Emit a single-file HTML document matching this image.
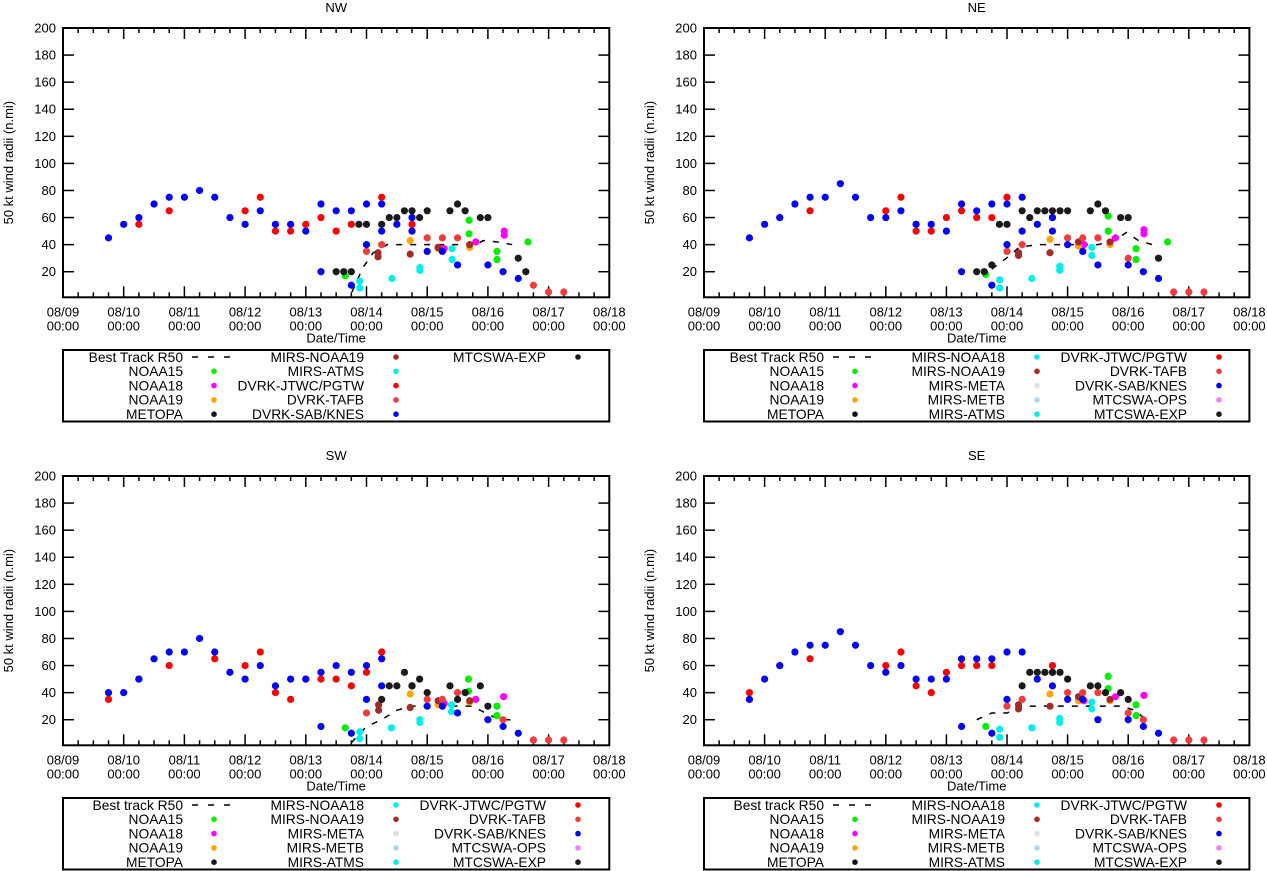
<!DOCTYPE html>
<html><head><meta charset="utf-8"><style>
html,body{margin:0;padding:0;background:#fff;}
svg{display:block;font-family:"Liberation Sans",sans-serif;}
</style></head><body>
<svg id="fig" width="1267" height="871" viewBox="0 0 1267 871" xmlns="http://www.w3.org/2000/svg"></svg>
<script>
// ---------- data: [day since 08/09 00:00, radius n.mi] ----------
const DAY_LABELS = ["08/09","08/10","08/11","08/12","08/13","08/14","08/15","08/16","08/17","08/18"];
const Y_TICKS = [20,40,60,80,100,120,140,160,180,200];

const NW_BEST = [[4.76,5],[4.94,23],[5.11,34],[5.34,40],[6.5,40],[6.82,40],[6.92,43],[7.15,42],[7.4,40]];
const NW_N15 = [[4.65,17],[6.69,58],[6.69,48],[7.15,35],[7.15,29],[7.66,42]];
const NW_N18 = [[6.28,37],[6.8,42],[7.27,50],[7.27,47]];
const NW_N19 = [[5.72,43],[6.18,37],[6.7,38]];
const NW_MN19 = [[5.19,34],[5.19,31],[5.72,33],[6.18,38],[6.7,40]];
const NW_ATMS = [[4.89,13],[4.89,8],[5.42,15],[5.88,23],[5.88,21],[6.41,37],[6.41,29]];
const NW_JTWC = [[1.25,55],[1.75,65],[3,65],[3.25,75],[3.5,50],[3.75,50],[4,55],[4.25,60],[4.5,50],[4.75,55],[5.25,75],[5.75,55]];
const NW_TAFB = [[5,35],[5.25,40],[6,45],[6.25,45],[6.5,45],[7.75,10],[8,5],[8.25,5]];
const NW_SAB = [[0.75,45],[1,55],[1.25,60],[1.5,70],[1.75,75],[2,75],[2.25,80],[2.5,75],[2.75,60],[3,55],[3.25,65],[3.5,55],[3.75,55],[4,50],[4.25,70],[4.25,20],[4.5,65],[4.75,65],[4.75,10],[5,70],[5,40],[5.25,70],[5.25,50],[5.5,55],[5.75,60],[5.75,50],[6,35],[6.25,35],[6.5,25],[7,25],[7.25,20],[7.5,15]];
const NW_EXP = [[4.5,20],[4.625,20],[4.75,20],[4.875,55],[5,55],[5.25,55],[5.375,60],[5.5,60],[5.625,65],[5.75,65],[5.875,60],[6,65],[6.375,65],[6.5,70],[6.625,65],[6.875,60],[7,60],[7.5,30],[7.625,20]];

const NE_BEST = [[4.75,22],[4.99,30],[5.2,38],[5.5,40],[6.5,40],[6.78,43],[6.97,49],[7.17,43],[7.4,40]];
const NE_N15 = [[4.65,18],[6.67,61],[6.67,50],[7.13,37],[7.13,29],[7.65,42]];
const NE_N18 = [[6.27,40],[6.79,45],[7.26,51],[7.26,48]];
const NE_N19 = [[5.71,44],[6.18,39],[6.7,40]];
const NE_MN19 = [[5.19,34],[5.19,32],[5.71,34],[6.18,42],[6.7,42]];
const NE_ATMS = [[4.88,14],[4.88,8],[5.41,15],[5.87,24],[5.87,21],[6.4,38],[6.4,32]];
const NE_JTWC = [[1.25,60],[1.75,65],[3,65],[3.25,75],[3.5,50],[3.75,50],[4,60],[4.25,65],[4.5,60],[4.75,60],[5,75],[5.75,60]];
const NE_TAFB = [[5,35],[5.25,40],[6,45],[6.25,45],[6.5,45],[7,30],[7.75,5],[8,5],[8.25,5]];
const NE_SAB = [[0.75,45],[1,55],[1.25,60],[1.5,70],[1.75,75],[2,75],[2.25,85],[2.5,75],[2.75,60],[3,60],[3.25,65],[3.5,55],[3.75,55],[4,50],[4.25,70],[4.25,20],[4.5,65],[4.75,70],[4.75,10],[5,70],[5,40],[5.25,75],[5.25,50],[5.5,55],[5.75,60],[5.75,50],[6,40],[6.25,35],[6.5,25],[7,25],[7.25,20],[7.5,15]];
const NE_EXP = [[4.5,20],[4.625,20],[4.75,25],[4.875,55],[5,55],[5.25,65],[5.375,60],[5.5,65],[5.625,65],[5.75,65],[5.875,65],[6,65],[6.375,65],[6.5,70],[6.625,65],[6.875,60],[7,60],[7.5,30]];

const SW_BEST = [[4.75,3],[5,15],[5.25,20],[5.5,27],[5.75,30],[6.75,30],[7,24],[7.2,20],[7.4,20]];
const SW_N15 = [[4.65,14],[6.68,50],[6.68,41],[7.15,30],[7.15,23]];
const SW_N18 = [[6.28,32],[6.8,35],[7.26,37]];
const SW_N19 = [[5.72,39],[6.18,31],[6.7,33]];
const SW_MN19 = [[5.2,31],[5.2,27],[5.72,29],[6.18,34],[6.7,34]];
const SW_ATMS = [[4.89,11],[4.89,6],[5.41,14],[5.88,20],[5.88,18],[6.4,31],[6.4,26]];
const SW_JTWC = [[0.75,35],[1.25,50],[1.75,60],[2.5,65],[3,60],[3.25,70],[3.5,40],[3.75,35],[4,50],[4.25,50],[4.5,50],[4.75,45],[5,55],[5.25,70],[5.75,45]];
const SW_TAFB = [[5,25],[6,35],[6.25,35],[6.5,40],[7.25,20],[7.75,5],[8,5],[8.25,5]];
const SW_SAB = [[0.75,40],[1,40],[1.25,50],[1.5,65],[1.75,70],[2,70],[2.25,80],[2.5,70],[2.75,55],[3,50],[3.25,60],[3.5,45],[3.75,50],[4,50],[4.25,55],[4.25,15],[4.5,60],[4.75,55],[4.75,10],[5,60],[5,35],[5.25,65],[5.25,45],[5.75,45],[6,30],[6.25,30],[6.5,25],[7,20],[7.25,15],[7.5,10]];
const SW_EXP = [[5.25,35],[5.375,45],[5.5,45],[5.625,55],[5.75,45],[5.875,50],[6,40],[6.375,45],[6.5,35],[6.625,40],[6.875,45],[7,30]];

const SE_BEST = [[4.5,20],[4.75,25],[5,25],[5.25,30],[6.9,30],[7.1,27],[7.3,20]];
const SE_N15 = [[4.65,15],[6.67,52],[6.67,43],[7.13,31],[7.13,23]];
const SE_N18 = [[6.27,34],[6.79,37],[7.26,38]];
const SE_N19 = [[5.71,39],[6.18,34],[6.7,34]];
const SE_MN19 = [[5.19,31],[5.19,28],[5.71,30],[6.18,37],[6.7,35]];
const SE_ATMS = [[4.88,13],[4.88,7],[5.41,14],[5.87,21],[5.87,18],[6.4,33],[6.4,28]];
const SE_JTWC = [[0.75,40],[1.25,60],[1.75,65],[3,60],[3.25,70],[3.5,45],[3.75,40],[4,55],[4.25,60],[4.5,60],[4.75,60],[5.75,60]];
const SE_TAFB = [[5,30],[5.25,35],[6,40],[6.25,40],[6.5,40],[7,25],[7.25,20],[7.75,5],[8,5],[8.25,5]];
const SE_SAB = [[0.75,35],[1,50],[1.25,60],[1.5,70],[1.75,75],[2,75],[2.25,85],[2.5,75],[2.75,60],[3,55],[3.25,60],[3.5,50],[3.75,50],[4,50],[4.25,65],[4.25,15],[4.5,65],[4.75,65],[4.75,10],[5,70],[5,35],[5.25,70],[5.5,50],[5.75,55],[5.75,45],[6,35],[6.25,35],[6.5,20],[7,20],[7.25,15],[7.5,10]];
const SE_EXP = [[5.25,45],[5.375,55],[5.5,55],[5.625,55],[5.75,55],[5.875,55],[6,50],[6.375,45],[6.5,45],[6.625,40],[6.875,40],[7,35]];

const COLORS = {n15:"#00ee00",n18:"#ff00ff",n19:"#ffa500",metopa:"#111111",mn18:"#00eeee",mn19:"#a52a2a",meta:"#e0e0e0",metb:"#add8e6",atms:"#00eeee",jtwc:"#ff0000",tafb:"#f03c3c",sab:"#0000ff",ops:"#ee82ee",exp:"#1a1a1a"};

const LEGEND_NW = [
  ["Best Track R50","best"],["NOAA15","n15"],["NOAA18","n18"],["NOAA19","n19"],["METOPA","metopa"],
  ["MIRS-NOAA19","mn19"],["MIRS-ATMS","atms"],["DVRK-JTWC/PGTW","jtwc"],["DVRK-TAFB","tafb"],["DVRK-SAB/KNES","sab"],
  ["MTCSWA-EXP","exp"]];
const LEGEND_FULL_TAIL = [
  ["NOAA15","n15"],["NOAA18","n18"],["NOAA19","n19"],["METOPA","metopa"],
  ["MIRS-NOAA18","mn18"],["MIRS-NOAA19","mn19"],["MIRS-META","meta"],["MIRS-METB","metb"],["MIRS-ATMS","atms"],
  ["DVRK-JTWC/PGTW","jtwc"],["DVRK-TAFB","tafb"],["DVRK-SAB/KNES","sab"],["MTCSWA-OPS","ops"],["MTCSWA-EXP","exp"]];

const panels = [
  {id:"nw",title:"NW",x0:63,dw:60.7,top:28,bestLabel:"Best Track R50",legend:"nw",
   best:NW_BEST,series:[["n15",NW_N15],["n18",NW_N18],["n19",NW_N19],["mn19",NW_MN19],["atms",NW_ATMS],["jtwc",NW_JTWC],["tafb",NW_TAFB],["sab",NW_SAB],["exp",NW_EXP]]},
  {id:"ne",title:"NE",x0:704,dw:60.6,top:28,bestLabel:"Best Track R50",legend:"full",
   best:NE_BEST,series:[["n15",NE_N15],["n18",NE_N18],["n19",NE_N19],["mn19",NE_MN19],["atms",NE_ATMS],["jtwc",NE_JTWC],["tafb",NE_TAFB],["sab",NE_SAB],["exp",NE_EXP]]},
  {id:"sw",title:"SW",x0:63,dw:60.7,top:476,bestLabel:"Best track R50",legend:"full",
   best:SW_BEST,series:[["n15",SW_N15],["n18",SW_N18],["n19",SW_N19],["mn19",SW_MN19],["atms",SW_ATMS],["jtwc",SW_JTWC],["tafb",SW_TAFB],["sab",SW_SAB],["exp",SW_EXP]]},
  {id:"se",title:"SE",x0:704,dw:60.6,top:476,bestLabel:"Best track R50",legend:"full",
   best:SE_BEST,series:[["n15",SE_N15],["n18",SE_N18],["n19",SE_N19],["mn19",SE_MN19],["atms",SE_ATMS],["jtwc",SE_JTWC],["tafb",SE_TAFB],["sab",SE_SAB],["exp",SE_EXP]]}
];

const NS="http://www.w3.org/2000/svg";
const svg=document.getElementById("fig");
function mk(tag,attrs,parent,txt){const e=document.createElementNS(NS,tag);for(const k in attrs)e.setAttribute(k,attrs[k]);if(txt!==undefined)e.textContent=txt;(parent||svg).appendChild(e);return e;}

panels.forEach(p=>{
  const UNIT=1.354;
  const yv=v=>p.top+(200-v)*UNIT;
  const xd=d=>p.x0+d*p.dw;
  const left=xd(0),right=xd(9),top=p.top,bottom=p.top+269.3;
  const g=mk("g",{},svg);
  
  
  const cx=(left+right)/2;
  const t=mk("text",{x:cx,y:top-16,"text-anchor":"middle","font-size":"13"},g,p.title);
  
  
  const yl=mk("text",{x:0,y:0,"text-anchor":"middle","font-size":"13",transform:`translate(${left-50},${(top+bottom)/2}) rotate(-90)`},g,"50 kt wind radii (n.mi)");
  
  
  const ax=mk("g",{stroke:"#000","stroke-width":"1.5"},g);
  
  
  Y_TICKS.forEach(v=>{
    const y=yv(v);
    mk("line",{x1:left,y1:y,x2:left+11,y2:y},ax);
    mk("line",{x1:right,y1:y,x2:right-11,y2:y},ax);
    const tl=mk("text",{x:left-7,y:y+4.5,"text-anchor":"end","font-size":"13",stroke:"none"},g,String(v));
    
    
  });
  for(let q=1;q<36;q++){
    const x=xd(q/4);const len=(q%4===0)?11:5;
    mk("line",{x1:x,y1:bottom,x2:x,y2:bottom-len},ax);
    mk("line",{x1:x,y1:top,x2:x,y2:top+len},ax);
  }
  DAY_LABELS.forEach((lab,i)=>{
    const x=xd(i);
    const a=mk("text",{x:x,y:bottom+19,"text-anchor":"middle","font-size":"13"},g,lab);
    
    
    const b=mk("text",{x:x,y:bottom+33,"text-anchor":"middle","font-size":"13"},g,"00:00");
    
    
  });
  const xt=mk("text",{x:cx,y:bottom+45,"text-anchor":"middle","font-size":"13"},g,"Date/Time");
  
  
  const bt=mk("polyline",{points:p.best.map(d=>xd(d[0])+","+yv(d[1])).join(" "),fill:"none",stroke:"#000","stroke-width":"1.5","stroke-dasharray":"6,8"},g);
  
  
  p.series.forEach(s=>{
    const sg=mk("g",{fill:COLORS[s[0]]},g);
    
    
    s[1].forEach(d=>{
      const c=mk("circle",{cx:xd(d[0]),cy:yv(d[1]),r:3.6},sg);
      
      
    });
  });
  const fr=mk("rect",{x:left,y:top,width:right-left,height:bottom-top,fill:"none",stroke:"#000","stroke-width":"2"},g);
  
  
  const lt=top+322;
  const lg=mk("g",{},g);
  
  
  mk("rect",{x:left,y:lt,width:right-left,height:71.5,fill:"none",stroke:"#000","stroke-width":"2"},lg);
  let entries = p.legend==="nw" ? LEGEND_NW.slice() : [["Best Track R50","best"]].concat(LEGEND_FULL_TAIL);
  entries[0]=[p.bestLabel,"best"];
  const colRight=[120,301,483], colDot=[151,333,515];
  entries.forEach((e,i)=>{
    const col=Math.floor(i/5),row=i%5;
    const y=lt+7+row*14.3;
    const le=mk("g",{},lg);
    
    
    mk("text",{x:left+colRight[col],y:y+4.8,"text-anchor":"end","font-size":"13.8"},le,e[0]);
    if(e[1]==="best"){
      mk("line",{x1:left+colDot[col]-22,y1:y,x2:left+colDot[col]+16,y2:y,stroke:"#000","stroke-width":"1.5","stroke-dasharray":"6,10"},le);
    } else {
      mk("circle",{cx:left+colDot[col],cy:y,r:2.8,fill:COLORS[e[1]]},le);
    }
  });
});
</script>
</body></html>
